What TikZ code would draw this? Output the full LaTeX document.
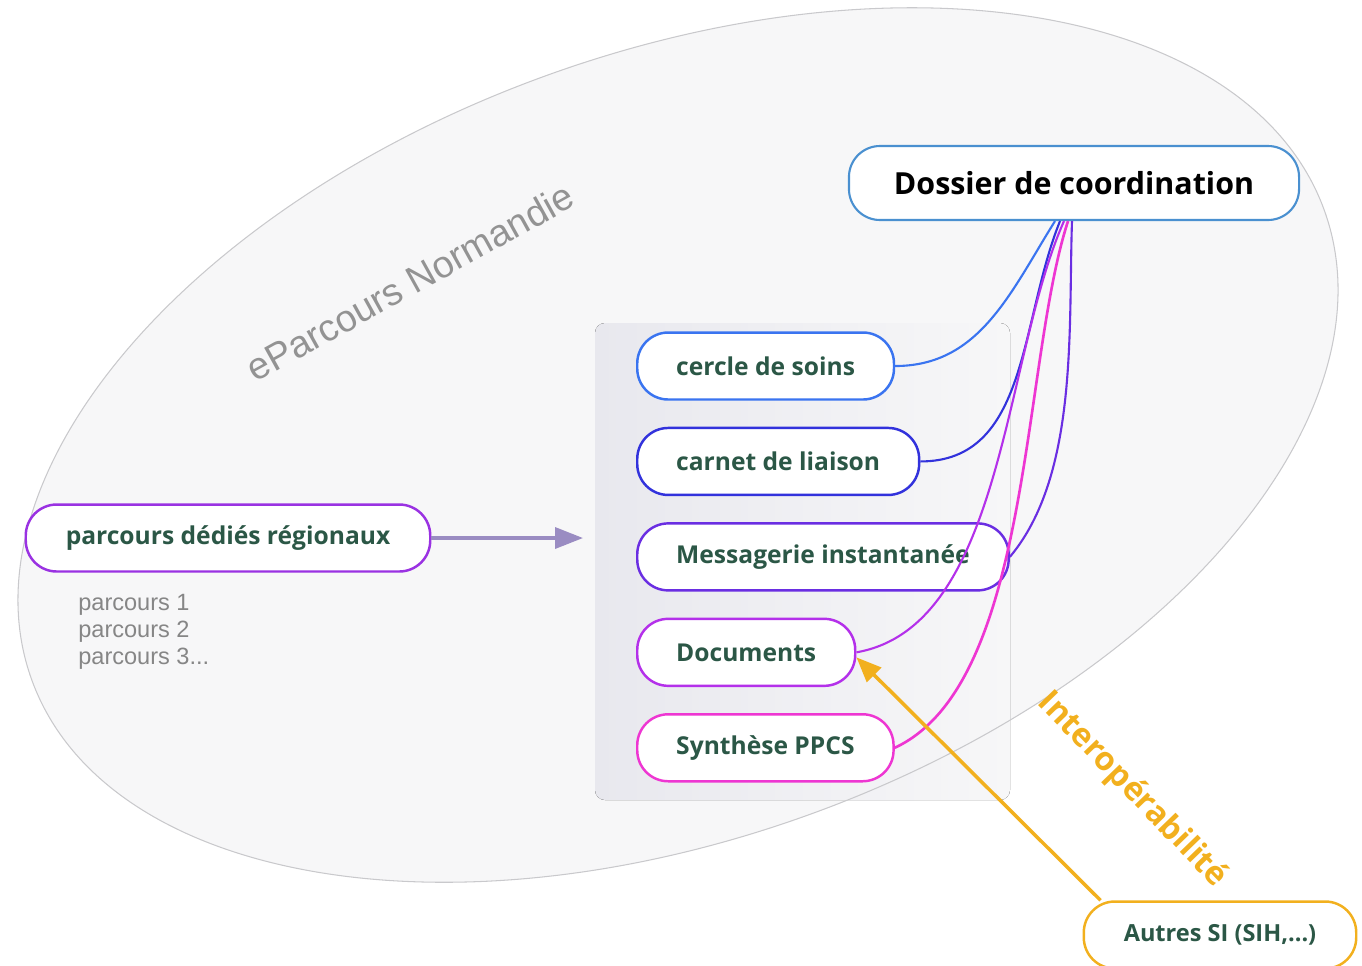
\documentclass[tikz,border=0pt]{standalone}
\usepackage{fontspec}
\setmainfont{Open Sans}
\newfontfamily\arialfont{Liberation Sans}
\usetikzlibrary{arrows.meta , positioning}

\definecolor{vert}{HTML}{2B5746}
\definecolor{fondgris}{HTML}{F7F7F8}
\definecolor{bordgris}{HTML}{C9C9CC}
\definecolor{panneaugris}{HTML}{E8E8EE}
\definecolor{cdossier}{HTML}{4A90D0}
\definecolor{cbleu}{HTML}{3A74F0}
\definecolor{cindigo}{HTML}{3232DC}
\definecolor{cviolet}{HTML}{6A2EE2}
\definecolor{cpourpre}{HTML}{B430EA}
\definecolor{crose}{HTML}{EE36D2}
\definecolor{cparcours}{HTML}{9A32E2}
\definecolor{corange}{HTML}{F2B01E}
\definecolor{cfleche}{HTML}{9A8CC2}

\begin{document}
\begin{tikzpicture}[x = 0.02cm , y = 0.02cm ,
    boite/.style = {draw , line width = 1.4pt , rounded corners = 0.62cm , fill = white , minimum height = 1.34cm , inner xsep = 0.78cm , font = \fontsize{14}{16}\selectfont\bfseries , text = vert},
    lien/.style = {line width = 1.2pt}]
    \useasboundingbox (0,0) rectangle (1362,-965);

    % ellipse ePartcours
    \fill[fondgris] (678,-445) circle[x radius = 687.6 , y radius = 392.2 , rotate = 20];
    % panneau des services
    \fill[left color = panneaugris , right color = fondgris , rounded corners = 0.2cm] (595,-323) rectangle (1010,-800);
    \draw[bordgris , line width = 0.6pt] (678,-445) circle[x radius = 687.6 , y radius = 392.2 , rotate = 20];
    \node[rotate = 29 , text = gray!85 , font = \arialfont\fontsize{21.5}{24}\selectfont] (titre) at (410,-282) {eParcours Normandie};
    \coordinate (entree) at (583,-538);

    \node[boite , draw = cbleu , anchor = west] (cercle) at (636,-366) {cercle de soins};
    \node[boite , draw = cindigo , below = 0.52cm of cercle.south west , anchor = north west] (carnet) {carnet de liaison};
    \node[boite , draw = cviolet , below = 0.52cm of carnet.south west , anchor = north west] (messagerie) {Messagerie instantanée};
    \node[boite , draw = cpourpre , below = 0.52cm of messagerie.south west , anchor = north west] (documents) {Documents};
    \node[boite , draw = crose , below = 0.52cm of documents.south west , anchor = north west] (synthese) {Synthèse PPCS};

    \node[boite , draw = cdossier , line width = 1.2pt , text = black , minimum height = 1.48cm , inner xsep = 0.9cm , font = \fontsize{17.3}{20}\selectfont\bfseries] (dossier) at (1074,-183) {Dossier de coordination};

    % liens vers le dossier
    \draw[lien , cbleu] (cercle.east) to[out = 0 , in = -122] ([xshift = -0.38cm]dossier.south);
    \draw[lien , cindigo] (carnet.east) to[out = 0 , in = -112] ([xshift = -0.28cm]dossier.south);
    \draw[lien , cpourpre] (documents.east) to[out = 10 , in = -114 , looseness = 0.8] ([xshift = -0.2cm]dossier.south);
    \draw[lien , crose , line width = 1.5pt] (synthese.east) to[out = 25 , in = -108 , looseness = 0.7] ([xshift = -0.12cm]dossier.south);
    \draw[lien , cviolet] (messagerie.east) to[out = 50 , in = -92 , looseness = 0.8] ([xshift = -0.04cm]dossier.south);

    % parcours regionaux
    \node[boite , draw = cparcours , inner xsep = 0.8cm] (parcours) at (228,-538) {parcours dédiés régionaux};
    \node[anchor = north west , align = left , inner sep = 0pt , text = gray!95 , font = \arialfont\fontsize{13.4}{15.3}\selectfont] (liste) at (78,-594) {parcours 1\\parcours 2\\parcours 3...};
    \draw[line width = 2pt , cfleche , -{Triangle[length = 0.56cm , width = 0.42cm]}] (parcours.east) -- (entree);

    % autres SI
    \node[boite , draw = corange , inner xsep = 0.8cm , font = \fontsize{13.4}{16}\selectfont\bfseries] (autres) at (1220,-935) {Autres SI (SIH,...)};
    \draw[line width = 2pt , corange , -{Triangle[length = 0.5cm , width = 0.4cm]}] ([xshift = 0.36cm]autres.north west) -- ([yshift = -0.1cm]documents.east);
    \node[rotate = -46 , text = corange , font = \fontsize{18.5}{22}\selectfont\bfseries] (interop) at (1132,-790) {Interopérabilité};
\end{tikzpicture}
\end{document}
